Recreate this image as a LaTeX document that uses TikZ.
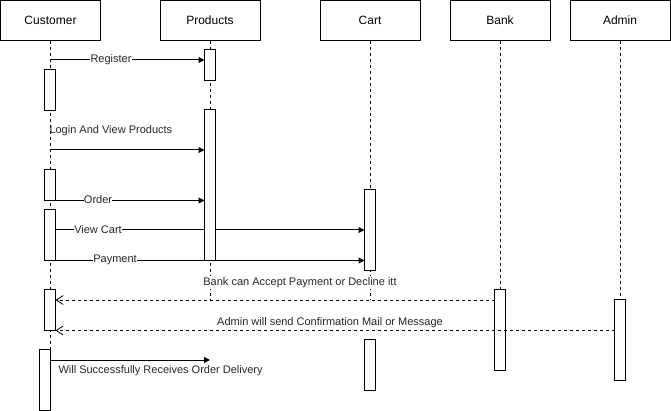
\documentclass[tikz,border=0pt]{standalone}
\usepackage{fontspec}
\setmainfont{Liberation Sans}
\usetikzlibrary{arrows.meta}
\begin{document}
\begin{tikzpicture}[x=1pt,y=-1pt,
  head/.style={draw,line width=1pt,minimum width=100pt,minimum height=40pt,inner sep=0pt,font=\fontsize{12}{14}\selectfont},
  act/.style={draw,fill=white,line width=1pt,minimum width=10pt,inner sep=0pt},
  life/.style={dash pattern=on 3pt off 3pt,line width=0.8pt},
  msg/.style={line width=1pt,-{Triangle[length=6pt,width=6pt]}},
  ret/.style={line width=0.8pt,dash pattern=on 3pt off 3pt,-{Straight Barb[length=7pt,width=9pt,line width=0.8pt]}},
  lbl/.style={font=\fontsize{11}{13}\selectfont,text=black!85,fill=white,inner xsep=0.3pt,inner ysep=1pt}]
\useasboundingbox (0,0) rectangle (671,411);
% headers
\node[head] (cust) at (50.5,20.5) {Customer};
\node[head] (prod) at (210,20.5) {Products};
\node[head] (cart) at (370,20.5) {Cart};
\node[head] (bank) at (500,20.5) {Bank};
\node[head] (admin) at (620,20.5) {Admin};
% lifeline end points
\coordinate (pend) at (210,300);
\coordinate (kend) at (370,300);
% activations (positions)
\path
  node[act,minimum height=40pt] (c1) at (50,90) {}
  node[act,minimum height=30pt] (c2) at (50,185) {}
  node[act,minimum height=50pt] (c3) at (50,235) {}
  node[act,minimum height=40pt] (c4) at (50,310) {}
  node[act,minimum height=60pt] (c5) at (45,380) {}
  node[act,minimum height=30pt] (p1) at (210,65) {}
  node[act,minimum height=150pt] (p2) at (210,185) {}
  node[act,minimum height=80pt] (k1) at (370,230) {}
  node[act,minimum height=50pt] (k2) at (370,365) {}
  node[act,minimum height=80pt] (b1) at (500,330) {}
  node[act,minimum height=80pt] (a1) at (620,340) {};
% lifelines
\draw[life] (cust.south) -- (cust.south |- c5.north);
\draw[life] (prod.south) -- (pend);
\draw[life] (cart.south) -- (kend);
\draw[life] (bank.south) -- (b1.north);
\draw[life] (admin.south) -- (a1.north);
% messages
\coordinate (m1) at (50,60);
\draw[msg] (m1) -- (p1.west |- m1);
\coordinate (m2) at (50,150);
\draw[msg] (m2) -- (p2.west |- m2);
\draw[msg] (c2.south east) -- (p2.west |- c2.south);
\coordinate (m4) at (55,230);
\draw[msg] (m4) -- (k1.west |- m4);
\draw[msg] (c3.south east) -- (k1.west |- c3.south);
\coordinate (m6) at (50,360);
\draw[msg] (m6) -- (210,360) coordinate (m6e);
% activations drawn over
\foreach \n in {c1,c2,c3,c4,c5,p1,p2,k1,k2,b1,a1}
  \draw[line width=1pt,fill=white] (\n.south west) rectangle (\n.north east);
% returns
\coordinate (r1) at (495,300);
\draw[ret] (r1) -- (c4.east |- r1);
\draw[ret] (a1.west |- c4.south) -- (c4.south east);
% labels
\node[lbl] (lreg) at (111,59.5) {Register};
\node[lbl,fill=none,anchor=west] (llog) at (49,131) {Login And View Products};
\node[lbl] (lord) at (98,199.5) {Order};
\node[lbl] (lvc) at (98,229.5) {View Cart};
\node[lbl] (lpay) at (115,259.5) {Payment};
\node[lbl] (lbank) at (300,282.5) {Bank can Accept Payment or Decline itt};
\node[lbl] (ladm) at (330,322.5) {Admin will send Confirmation Mail or Message};
\node[lbl,fill=none,anchor=west] (ldel) at (58,370.5) {Will Successfully Receives Order Delivery};
\end{tikzpicture}
\end{document}
